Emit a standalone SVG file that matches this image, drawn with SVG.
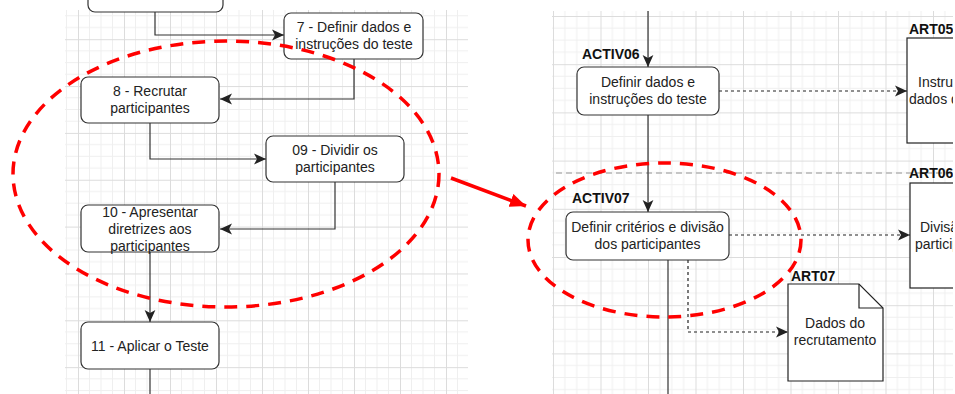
<svg xmlns="http://www.w3.org/2000/svg" width="955" height="394" viewBox="0 0 955 394">
<style>
.node{fill:#fff;stroke:#333;stroke-width:1.2}
.t{font-family:"Liberation Sans",Arial,sans-serif;font-size:14px;fill:#222;text-anchor:middle}
.ts{font-family:"Liberation Sans",Arial,sans-serif;font-size:14px;fill:#222}
.lbl{font-family:"Liberation Sans",Arial,sans-serif;font-size:14px;font-weight:bold;fill:#111}
.c{fill:none;stroke:#333;stroke-width:1.2}
.d{fill:none;stroke:#222;stroke-width:1.2;stroke-dasharray:3 3}
.red{fill:none;stroke:#f00;stroke-width:3.5;stroke-dasharray:13 9}
.minor{stroke:#efefef;stroke-width:1}
.major{stroke:#dcdcdc;stroke-width:1}
</style>
<defs>
<pattern id="gl" patternUnits="userSpaceOnUse" x="32" y="39.2" width="46" height="46.85">
<line class="minor" x1="11.5" y1="0" x2="11.5" y2="46.85"/>
<line class="minor" x1="23" y1="0" x2="23" y2="46.85"/>
<line class="minor" x1="34.5" y1="0" x2="34.5" y2="46.85"/>
<line class="minor" x1="0" y1="11.7" x2="46" y2="11.7"/>
<line class="minor" x1="0" y1="23.4" x2="46" y2="23.4"/>
<line class="minor" x1="0" y1="35.1" x2="46" y2="35.1"/>
<line class="major" x1="0.5" y1="0" x2="0.5" y2="46.85"/>
<line class="major" x1="0" y1="0.5" x2="46" y2="0.5"/>
</pattern>
<pattern id="gr" patternUnits="userSpaceOnUse" x="30.5" y="16" width="47.5" height="48.2">
<line class="minor" x1="11.9" y1="0" x2="11.9" y2="48.2"/>
<line class="minor" x1="23.75" y1="0" x2="23.75" y2="48.2"/>
<line class="minor" x1="35.6" y1="0" x2="35.6" y2="48.2"/>
<line class="minor" x1="0" y1="12" x2="47.5" y2="12"/>
<line class="minor" x1="0" y1="24.1" x2="47.5" y2="24.1"/>
<line class="minor" x1="0" y1="36.2" x2="47.5" y2="36.2"/>
<line class="major" x1="0.5" y1="0" x2="0.5" y2="48.2"/>
<line class="major" x1="0" y1="0.5" x2="47.5" y2="0.5"/>
</pattern>
<marker id="a" markerUnits="userSpaceOnUse" markerWidth="12" markerHeight="12" refX="10" refY="5" orient="auto" viewBox="0 0 10 10">
<path d="M0,0.5 L10,5 L0,9.5 L2.5,5 z" fill="#222"/>
</marker>
<marker id="ra" markerUnits="userSpaceOnUse" markerWidth="16" markerHeight="14" refX="14" refY="6" orient="auto" viewBox="0 0 14 12">
<path d="M0,0 L14,6 L0,12 z" fill="#f00"/>
</marker>
<clipPath id="clipR"><rect x="540" y="0" width="413" height="394"/></clipPath>
</defs>
<rect width="955" height="394" fill="#fff"/>
<rect x="65" y="10" width="403" height="384" fill="url(#gl)"/>
<rect x="552" y="11" width="401" height="383" fill="url(#gr)"/>
<line x1="556" y1="173" x2="953" y2="173" stroke="#b5b5b5" stroke-width="1.5" stroke-dasharray="6 4"/>

<g id="connectors">
<path class="c" d="M155,12 V35 H284" marker-end="url(#a)"/>
<path class="c" d="M354,59 V99 H220" marker-end="url(#a)"/>
<path class="c" d="M150,123 V159 H266" marker-end="url(#a)"/>
<path class="c" d="M335,182 V229 H220" marker-end="url(#a)"/>
<path class="c" d="M150,252 V322" marker-end="url(#a)"/>
<path class="c" d="M150,369 V394"/>
<path class="c" d="M648,11 V67" marker-end="url(#a)"/>
<path class="d" d="M719,91 H907" marker-end="url(#a)"/>
<path class="c" d="M648,115 V212" marker-end="url(#a)"/>
<path class="d" d="M729,235 H910" marker-end="url(#a)"/>
<path class="c" d="M668,260 V394"/>
<path class="d" d="M688,260 V332 H788" marker-end="url(#a)"/>
</g>

<g id="node-top">
<rect class="node" x="88" y="-30" width="135" height="42" rx="7"/>
</g>
<g id="node-7">
<rect class="node" x="284" y="13" width="139" height="46" rx="7"/>
<text class="t" x="354" y="32">7 - Definir dados e</text>
<text class="t" x="354" y="49">instruções do teste</text>
</g>
<g id="node-8">
<rect class="node" x="81" y="77" width="138" height="46" rx="7"/>
<text class="t" x="150" y="96">8 - Recrutar</text>
<text class="t" x="150" y="113">participantes</text>
</g>
<g id="node-9">
<rect class="node" x="266" y="136" width="138" height="46" rx="7"/>
<text class="t" x="335" y="155">09 - Dividir os</text>
<text class="t" x="335" y="172">participantes</text>
</g>
<g id="node-10">
<rect class="node" x="81" y="205" width="138" height="47" rx="7"/>
<text class="t" x="150" y="217">10 - Apresentar</text>
<text class="t" x="150" y="234">diretrizes aos</text>
<text class="t" x="150" y="251">participantes</text>
</g>
<g id="node-11">
<rect class="node" x="81" y="322" width="138" height="47" rx="7"/>
<text class="t" x="150" y="351">11 - Aplicar o Teste</text>
</g>

<g id="activ06">
<text class="lbl" x="582" y="59">ACTIV06</text>
<rect class="node" x="577" y="67" width="142" height="48" rx="7"/>
<text class="t" x="648" y="87">Definir dados e</text>
<text class="t" x="648" y="104">instruções do teste</text>
</g>
<g id="activ07">
<text class="lbl" x="572" y="203">ACTIV07</text>
<rect class="node" x="566" y="212" width="163" height="48" rx="7"/>
<text class="t" x="647.5" y="232">Definir critérios e divisão</text>
<text class="t" x="647.5" y="249">dos participantes</text>
</g>
<g id="art05" clip-path="url(#clipR)">
<text class="lbl" x="909" y="34">ART05</text>
<rect x="907" y="38" width="80" height="105" fill="#fff" stroke="#222" stroke-width="1.2"/>
<text class="ts" x="918" y="87">Instruções e</text>
<text class="ts" x="909" y="104">dados do teste</text>
</g>
<g id="art06" clip-path="url(#clipR)">
<text class="lbl" x="909" y="178">ART06</text>
<rect x="910" y="183" width="80" height="105" fill="#fff" stroke="#222" stroke-width="1.2"/>
<text class="ts" x="920" y="232">Divisão dos</text>
<text class="ts" x="915" y="249">participantes</text>
</g>
<g id="art07">
<text class="lbl" x="791" y="281">ART07</text>
<path d="M788,284 H859 L883,308 V381 H788 Z" fill="#fff" stroke="#222" stroke-width="1.2"/>
<path d="M859,284 V308 H883" fill="none" stroke="#222" stroke-width="1.2"/>
<text class="t" x="835" y="328">Dados do</text>
<text class="t" x="835" y="345">recrutamento</text>
</g>

<g id="highlights">
<ellipse class="red" cx="226" cy="174" rx="213" ry="133"/>
<ellipse class="red" cx="664.5" cy="240" rx="136.5" ry="77"/>
<line x1="451" y1="178" x2="526" y2="206" stroke="#f00" stroke-width="3.5" marker-end="url(#ra)"/>
</g>
</svg>
